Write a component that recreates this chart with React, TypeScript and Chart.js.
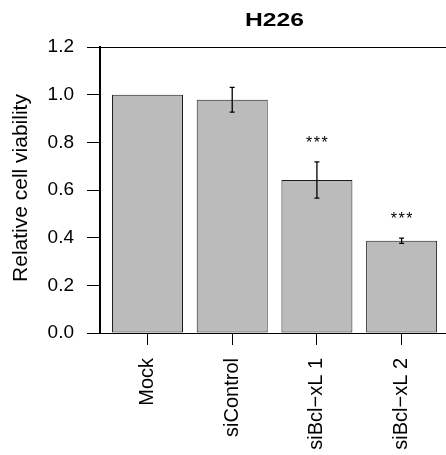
import React, { useEffect, useRef } from "react";
import { Chart, registerables } from "chart.js";

Chart.register(...registerables);

const categories = ["Mock", "siControl", "siBcl\u2212xL 1", "siBcl\u2212xL 2"];
const means = [1.0, 0.979, 0.642, 0.387];
const errors = [0, 0.052, 0.076, 0.011];
const significance = ["", "", "***", "***"];
const yMin = 0;
const yMax = 1.2;
const yStep = 0.2;
const chartTitle = "H226";
const yAxisTitle = "Relative cell viability";

const FONT = "'Liberation Sans', Arial, Helvetica, sans-serif";

const annotationPlugin = {
  id: "annotations",
  afterDatasetsDraw(chart: any) {
    const { ctx, chartArea, scales } = chart;
    const x = scales.x;
    const y = scales.y;
    ctx.save();
    // error bars
    ctx.strokeStyle = "#000";
    ctx.lineWidth = 1.3;
    means.forEach((m, i) => {
      const e = errors[i];
      if (!e) return;
      const px = x.getPixelForValue(i);
      const top = y.getPixelForValue(m + e);
      const bot = y.getPixelForValue(m - e);
      ctx.beginPath();
      ctx.moveTo(px, top);
      ctx.lineTo(px, bot);
      ctx.moveTo(px - 2.5, top);
      ctx.lineTo(px + 2.5, top);
      ctx.moveTo(px - 2.5, bot);
      ctx.lineTo(px + 2.5, bot);
      ctx.stroke();
    });
    // significance stars
    const sfs = 16;
    ctx.fillStyle = "#000";
    ctx.font = `${sfs}px ${FONT}`;
    (ctx as any).letterSpacing = "1.5px";
    ctx.textAlign = "center";
    ctx.textBaseline = "alphabetic";
    significance.forEach((s, i) => {
      if (!s) return;
      const px = x.getPixelForValue(i);
      const cy = y.getPixelForValue(means[i] + errors[i] + 0.098);
      ctx.fillText(s, px + 0.75, cy + 0.575 * sfs);
    });
    (ctx as any).letterSpacing = "0px";
    // title (slightly widened like the reference)
    ctx.save();
    ctx.font = `bold 19px ${FONT}`;
    ctx.textAlign = "center";
    ctx.textBaseline = "alphabetic";
    ctx.translate((chartArea.left + chartArea.right) / 2 + 1.5, 25.7);
    ctx.scale(1.3, 1);
    ctx.fillText(chartTitle, 0, 0);
    ctx.restore();
    // y axis title
    ctx.font = `21px ${FONT}`;
    ctx.textAlign = "center";
    ctx.textBaseline = "alphabetic";
    ctx.translate(26.7, (chartArea.top + chartArea.bottom) / 2 - 2);
    ctx.rotate(-Math.PI / 2);
    ctx.fillText(yAxisTitle, 0, 0);
    ctx.restore();
  },
};

export default function App() {
  const canvasRef = useRef<HTMLCanvasElement | null>(null);

  useEffect(() => {
    if (!canvasRef.current) return;
    const chart = new Chart(canvasRef.current, {
      type: "bar",
      data: {
        datasets: [
          {
            data: means.map((v, i) => ({ x: i, y: v })),
            backgroundColor: "#BBBBBB",
            borderColor: "#1a1a1a",
            borderWidth: 1,
            borderSkipped: false,
            barPercentage: 0.838,
            categoryPercentage: 1,
          },
        ],
      },
      options: {
        animation: false,
        responsive: false,
        maintainAspectRatio: false,
        layout: { padding: { top: 47, left: 0, right: 0, bottom: 0 } },
        plugins: {
          legend: { display: false },
          title: { display: false },
          tooltip: { enabled: false },
        },
        scales: {
          x: {
            type: "linear",
            min: -0.561,
            max: 3.524,
            offset: false,
            border: { display: false },
            grid: {
              display: true,
              drawOnChartArea: false,
              drawTicks: true,
              tickLength: 12,
              tickColor: "#000",
              offset: false,
            },
            ticks: {
              color: "#000",
              font: { family: FONT, size: 20 },
              minRotation: 90,
              maxRotation: 90,
              autoSkip: false,
              padding: 13,
              callback: (v: any) => categories[v as number] ?? "",
            },
            afterBuildTicks: (scale: any) => {
              scale.ticks = categories.map((_, i) => ({ value: i }));
            },
            afterFit: (scale: any) => {
              scale.height = 122;
              scale.paddingLeft = 0;
              scale.paddingRight = 0;
            },
          },
          y: {
            min: yMin,
            max: yMax,
            border: { display: true, color: "#000", width: 2 },
            grid: {
              display: true,
              drawOnChartArea: true,
              drawTicks: true,
              tickLength: 13,
              tickColor: "#000",
              color: (c: any) =>
                Math.abs(c.tick.value - yMin) < 1e-6 || Math.abs(c.tick.value - yMax) < 1e-6
                  ? "#000"
                  : "rgba(0,0,0,0)",
            },
            ticks: {
              stepSize: yStep,
              color: "#000",
              font: { family: FONT, size: 19 },
              padding: 13,
              callback: (v: any) => Number(v).toFixed(1),
            },
            afterFit: (scale: any) => {
              scale.width = 100;
            },
          },
        },
      },
      plugins: [annotationPlugin],
    });
    return () => chart.destroy();
  }, []);

  return (
    <div style={{ position: "absolute", left: 0, top: 0, width: 446, height: 455, background: "#fff" }}>
      <canvas ref={canvasRef} width={446} height={455} style={{ display: "block" }} />
    </div>
  );
}
